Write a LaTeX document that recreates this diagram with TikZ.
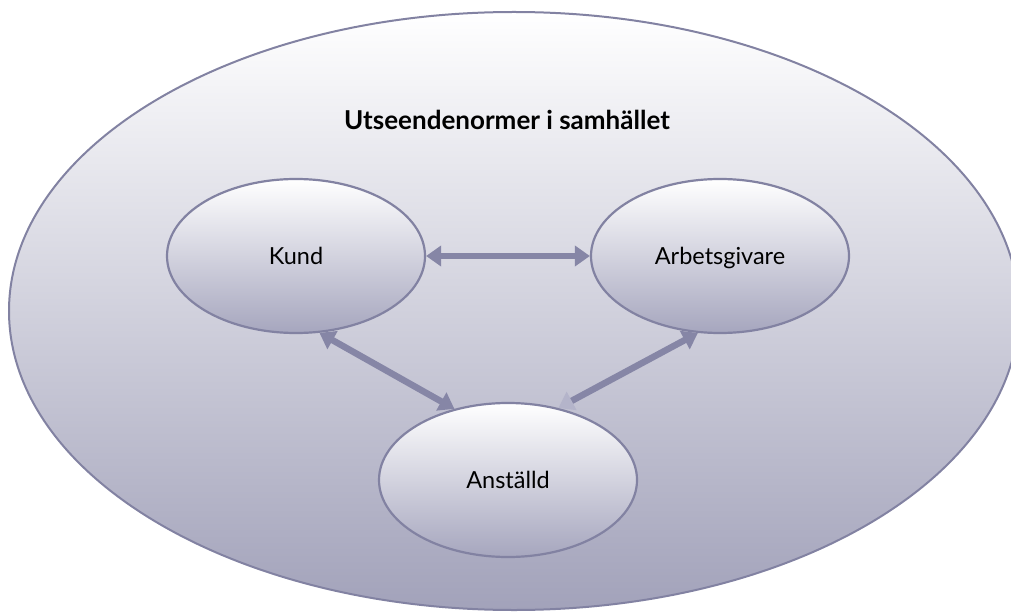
\documentclass[tikz,border=0pt]{standalone}
\usepackage{fontspec}
\setmainfont{Lato}
\usetikzlibrary{shapes.geometric,arrows.meta}
\definecolor{rim}{HTML}{8282A2}
\definecolor{arr}{HTML}{8686A6}
\definecolor{outerbot}{HTML}{A2A2BA}
\definecolor{innerbot}{HTML}{A6A6BE}
\definecolor{paletip}{HTML}{B4B4CA}
\tikzset{
  outerell/.style={ellipse, draw=rim, line width=2pt, top color=white, bottom color=outerbot, inner sep=0pt},
  innerell/.style={ellipse, draw=rim, line width=2.2pt, top color=white, bottom color=innerbot, minimum width=258pt, minimum height=154pt, inner sep=0pt, text height=17pt, text depth=0pt, font=\fontsize{23.5}{26}\selectfont},
  conn/.style={draw=arr, line width=6.5pt},
  title/.style={font=\fontsize{26}{30}\selectfont\bfseries}
}
\begin{document}
\begin{tikzpicture}[x=1pt,y=-1pt]
\useasboundingbox (0,0) rectangle (1011,612);
\node[outerell, minimum width=1010pt, minimum height=598pt] (outer) at (514,311) {};
\node[title] (t) at (507,120) {Utseendenormer i samhället};
\node[innerell] (kund) at (296,256) {Kund};
\node[innerell] (arb) at (720,256) {Arbetsgivare};
\node[innerell] (ans) at (508,480) {Anställd};
\draw[conn, {Triangle[length=15pt,width=20pt]}-{Triangle[length=15pt,width=20pt]}] (kund.east) -- (arb.west);
\draw[conn, {Triangle[length=15pt,width=20pt]}-{Triangle[length=15pt,width=20pt]}] (kund.-73) -- (ans.127);
\draw[conn, {Triangle[length=15pt,width=20pt,color=paletip]}-{Triangle[length=15pt,width=20pt]}] (ans.55) -- (arb.-106);
\end{tikzpicture}
\end{document}
